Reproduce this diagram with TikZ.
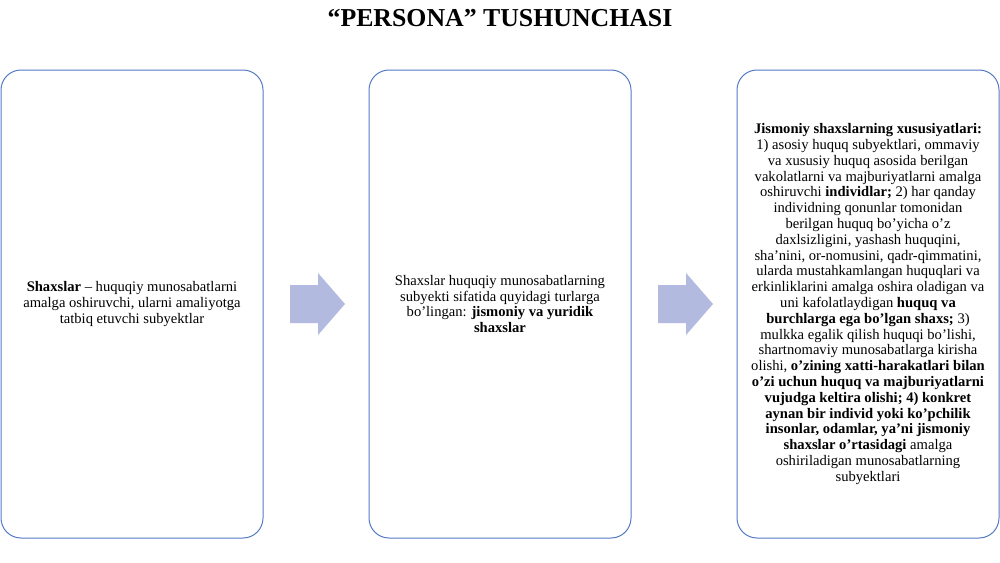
\documentclass[tikz,border=0pt]{standalone}
\usepackage{fontspec}
\setmainfont{Liberation Serif}
\definecolor{boxline}{RGB}{84,122,196}
\definecolor{arrowfill}{RGB}{178,186,224}
\tikzset{
  card/.style={draw=boxline, line width=1pt, rounded corners=20pt, minimum width=262pt, minimum height=468pt, inner sep=0pt},
  cardtext/.style={align=center, font=\fontsize{14.6pt}{15.8pt}\selectfont, inner sep=0pt},
  blockarrow/.style={fill=arrowfill, draw=none}
}
\begin{document}
\begin{tikzpicture}[x=1pt,y=-1pt]
\useasboundingbox (0,0) rectangle (1000,562);
\node[anchor=base, font=\fontsize{25.8pt}{30pt}\selectfont\bfseries] (title) at (500,27) {“PERSONA” TUSHUNCHASI};
\node[card] (b1) at (132,304) {};
\node[card] (b2) at (500,304) {};
\node[card] (b3) at (868,304) {};
\node[cardtext] (t1) at (b1.center) {\textbf{Shaxslar} – huquqiy munosabatlarni\\amalga oshiruvchi, ularni amaliyotga\\tatbiq etuvchi subyektlar};
\node[cardtext] (t2) at (b2.center) {Shaxslar huquqiy munosabatlarning\\subyekti sifatida quyidagi turlarga\\bo’lingan: \textbf{jismoniy va yuridik}\\\textbf{shaxslar}};
\node[cardtext] (t3) at (b3.center) {\textbf{Jismoniy shaxslarning xususiyatlari:}\\
1) asosiy huquq subyektlari, ommaviy\\
va xususiy huquq asosida berilgan\\
vakolatlarni va majburiyatlarni amalga\\
oshiruvchi \textbf{individlar;} 2) har qanday\\
individning qonunlar tomonidan\\
berilgan huquq bo’yicha o’z\\
daxlsizligini, yashash huquqini,\\
sha’nini, or-nomusini, qadr-qimmatini,\\
ularda mustahkamlangan huquqlari va\\
erkinliklarini amalga oshira oladigan va\\
uni kafolatlaydigan \textbf{huquq va}\\
\textbf{burchlarga ega bo’lgan shaxs;} 3)\\
mulkka egalik qilish huquqi bo’lishi,\\
shartnomaviy munosabatlarga kirisha\\
olishi, \textbf{o’zining xatti-harakatlari bilan}\\
\textbf{o’zi uchun huquq va majburiyatlarni}\\
\textbf{vujudga keltira olishi; 4) konkret}\\
\textbf{aynan bir individ yoki ko’pchilik}\\
\textbf{insonlar, odamlar, ya’ni jismoniy}\\
\textbf{shaxslar o’rtasidagi} amalga\\
oshiriladigan munosabatlarning\\
subyektlari};
\fill[blockarrow] (290,285) -- (318,285) -- (318,273) -- (345,304) -- (318,335) -- (318,323) -- (290,323) -- cycle;
\fill[blockarrow] (658,285) -- (686,285) -- (686,273) -- (713,304) -- (686,335) -- (686,323) -- (658,323) -- cycle;
\end{tikzpicture}
\end{document}
